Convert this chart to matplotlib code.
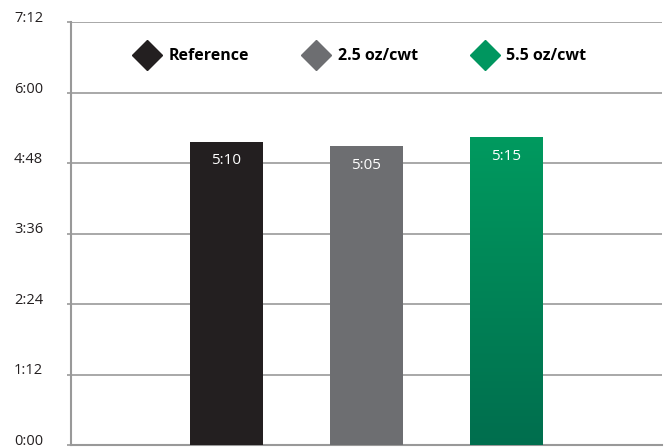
import numpy as np
import matplotlib.pyplot as plt
from matplotlib.lines import Line2D
from matplotlib.transforms import ScaledTranslation

plt.rcParams['font.family'] = ['Open Sans', 'DejaVu Sans']

# data: times in seconds
labels = ['Reference', '2.5 oz/cwt', '5.5 oz/cwt']
values = [310, 305, 315]          # 5:10, 5:05, 5:15
colors = ['#231f20', '#6d6e71', '#00965f']
green_top, green_bottom = '#009a5f', '#006e4e'
yticks = [0, 72, 144, 216, 288, 360, 432]


def fmt(sec):
    return f"{int(sec) // 60}:{int(sec) % 60:02d}"


fig = plt.figure(figsize=(6.67, 4.48), dpi=100)
ax = fig.add_axes([0.1064, 0.0067, 0.886, 0.944])

x = np.arange(len(values))
bars = ax.bar(x, values, width=0.52, color=colors, zorder=3)

# gradient on the green bar
gb = bars[2]
cmap = plt.matplotlib.colors.LinearSegmentedColormap.from_list('g', [green_bottom, green_top])
grad = np.linspace(0, 1, 256).reshape(-1, 1)
im = ax.imshow(grad, cmap=cmap, aspect='auto', origin='lower',
               extent=[gb.get_x(), gb.get_x() + gb.get_width(), 0, gb.get_height()], zorder=4)
im.set_clip_path(gb)

for b, v in zip(bars, values):
    ax.annotate(fmt(v), (b.get_x() + b.get_width() / 2, v), xytext=(0, -14),
                textcoords='offset points', ha='center', va='center',
                color='white', fontsize=11, zorder=5)

ax.set_xlim(-1.109, 3.112)
ax.set_ylim(0, 432)
ax.set_yticks(yticks)
ax.set_yticklabels([fmt(t) for t in yticks], fontsize=10.5, color='#231f20')
ax.tick_params(axis='y', length=3, width=1.2, color='#999999', pad=17)
shift = ScaledTranslation(0, 4 / 72, fig.dpi_scale_trans)
for lbl in ax.get_yticklabels():
    lbl.set_transform(lbl.get_transform() + shift)
ax.set_xticks([])
ax.grid(axis='y', color='#999999', linewidth=1.2, zorder=0)
for s in ['top', 'right']:
    ax.spines[s].set_visible(False)
for s in ['left', 'bottom']:
    ax.spines[s].set_color('#999999')
    ax.spines[s].set_linewidth(1.5)

handles = [Line2D([], [], marker='D', linestyle='none', markersize=15,
                  markerfacecolor=c, markeredgecolor=c) for c in colors]
leg = ax.legend(handles, labels, ncol=3, loc='upper left', bbox_to_anchor=(0.084, 0.972),
                frameon=False, prop={'weight': 'bold', 'size': 11.5},
                handletextpad=0.6, columnspacing=3.45, handlelength=1.5)

fig.savefig('out.png', dpi=100)
